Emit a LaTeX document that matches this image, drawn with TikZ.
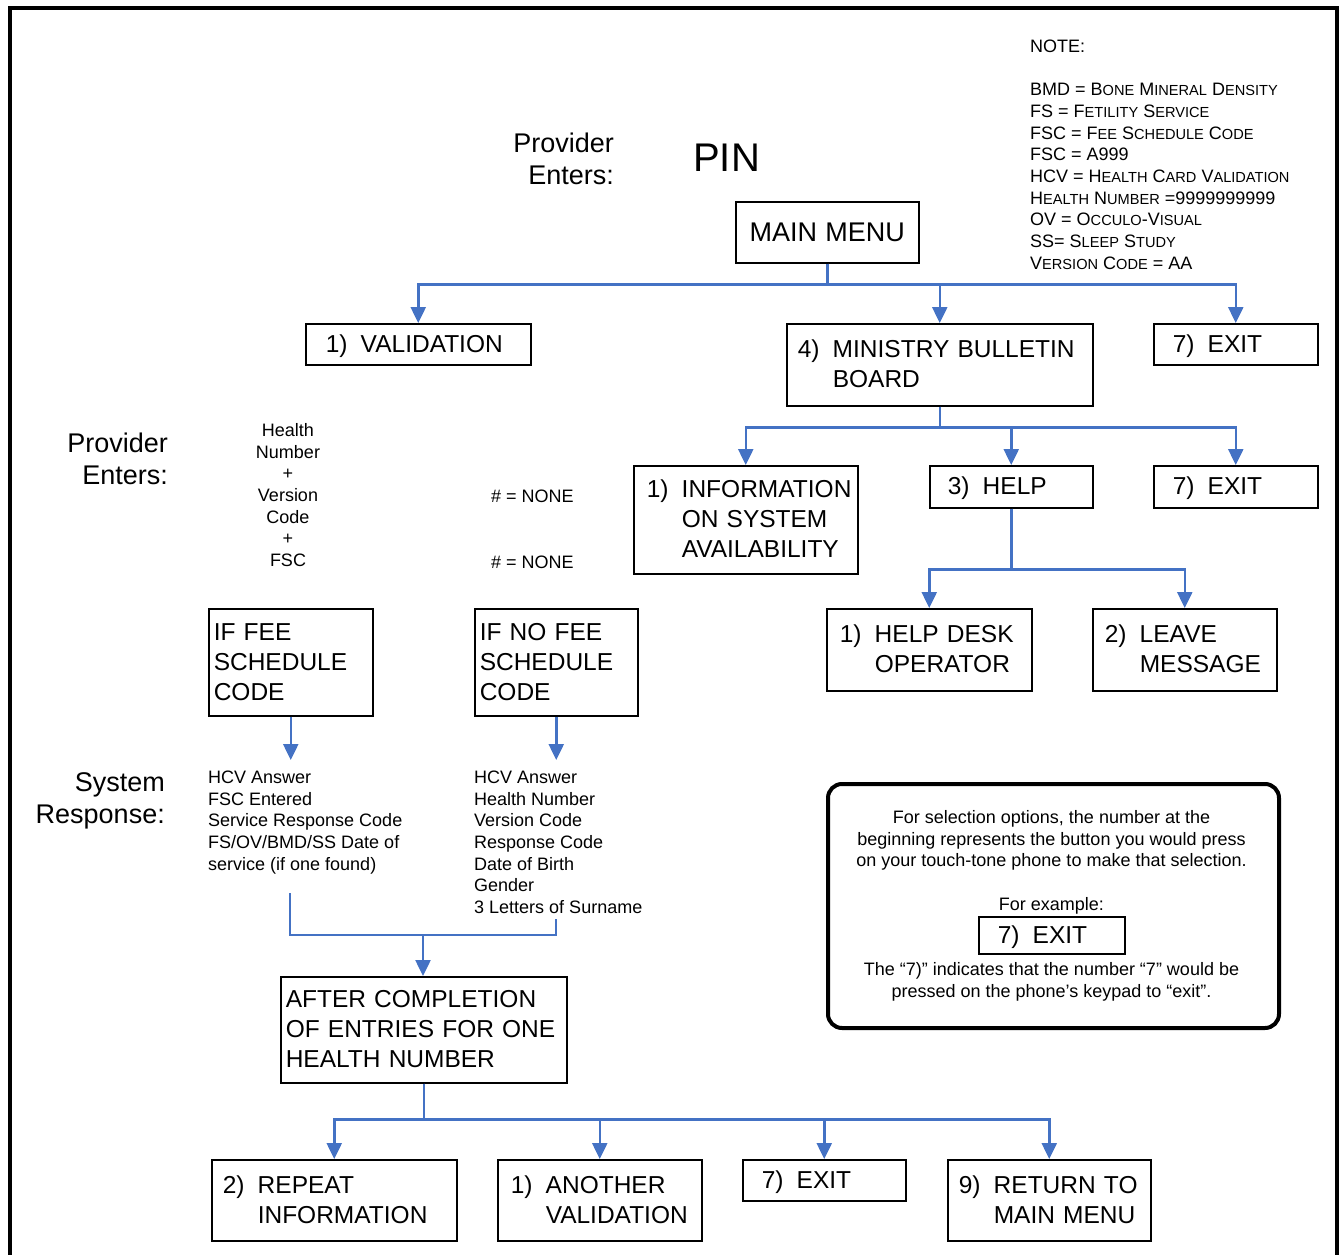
\documentclass[tikz,border=0pt]{standalone}
\usepackage{fontspec}
\setmainfont{Liberation Sans}
\usetikzlibrary{arrows.meta}
\definecolor{connblue}{RGB}{68,114,196}
\newcommand\fbig{\fontsize{24.5}{30}\selectfont}
\newcommand\flbl{\fontsize{27}{31.5}\selectfont}
\newcommand\fsml{\fontsize{18}{21.7}\selectfont}
\newcommand\fakesc[1]{{\fontsize{14.6}{14.6}\selectfont #1}}
\newcommand\toprule{\rule{0pt}{25pt}}
\newcommand\numtext[2]{\begin{tabular}{@{}l@{}l@{}}\toprule\makebox[35pt][l]{#1} & #2\end{tabular}}
\newcommand\optbox[7]{%
  \pgfmathsetmacro\optw{#4-#2-2*#6}%
  \pgfmathsetmacro\opth{#5-#3}%
  \node[boxn, inner xsep=#6pt, text width=\optw pt, minimum height=\opth pt] (#1) at (#2,#3) {#7};}
\begin{document}
\begin{tikzpicture}[x=1pt,y=-1pt,
  boxn/.style={draw, line width=1.5pt, rectangle, anchor=north west, align=left, inner ysep=0pt, font=\fbig},
  txt/.style={inner sep=0pt},
  conn/.style={draw=connblue, line width=2.5pt, -{Triangle[width=15pt,length=16pt]}},
  bus/.style={draw=connblue, line width=2.5pt},
  frame/.style={draw, line width=4pt},
  notebox/.style={draw, line width=4pt, rounded corners=14pt, anchor=north west, inner sep=0pt}]
\useasboundingbox (0,0) rectangle (1342,1255);
\draw[frame] (10,1270) -- (10,8) -- (1337,8) -- (1337,1270);

% labels
\node[txt, anchor=base east] (pe1) at (614,152.7) {\flbl\begin{tabular}[t]{@{}r@{}}Provider\\Enters:\end{tabular}};
\node[txt, anchor=base west] (pin) at (693,171.3) {\fontsize{40}{44}\selectfont PIN};
\node[txt, anchor=base east] (pe2) at (168,452.7) {\flbl\begin{tabular}[t]{@{}r@{}}Provider\\Enters:\end{tabular}};
\node[txt, anchor=base east] (sr) at (165,791.7) {\flbl\begin{tabular}[t]{@{}r@{}}System\\Response:\end{tabular}};

% note
\node[txt, anchor=base west] (note) at (1030,52.4) {\fsml\begin{tabular}[t]{@{}l@{}}NOTE:\\ \\
BMD = B\fakesc{ONE} M\fakesc{INERAL} D\fakesc{ENSITY}\\
FS = F\fakesc{ETILITY} S\fakesc{ERVICE}\\
FSC = F\fakesc{EE} S\fakesc{CHEDULE} C\fakesc{ODE}\\
FSC = A999\\
HCV = H\fakesc{EALTH} C\fakesc{ARD} V\fakesc{ALIDATION}\\
H\fakesc{EALTH} N\fakesc{UMBER} =9999999999\\
OV = O\fakesc{CCULO}-V\fakesc{ISUAL}\\
SS= S\fakesc{LEEP} S\fakesc{TUDY}\\
V\fakesc{ERSION} C\fakesc{ODE} = AA\end{tabular}};

% boxes
\optbox{main}{735}{201}{918}{262}{8}{\makebox[167pt][c]{\fontsize{27}{30}\selectfont MAIN MENU}}
\optbox{val}{305}{323}{530}{364}{20}{\numtext{1)}{VALIDATION}}
\optbox{mbb}{786}{323}{1092}{405}{11}{\numtext{4)}{MINISTRY BULLETIN\\ & BOARD}}
\optbox{ex1}{1153}{323}{1317}{364}{19}{\numtext{7)}{EXIT}}
\optbox{info}{633}{465}{857}{573}{13}{\numtext{1)}{INFORMATION\\ & ON SYSTEM\\ & AVAILABILITY}}
\optbox{help}{929}{465}{1092}{507}{18}{\numtext{3)}{HELP}}
\optbox{ex2}{1153}{465}{1317}{507}{19}{\numtext{7)}{EXIT}}
\optbox{hd}{826}{608}{1031}{690}{13}{\numtext{1)}{HELP DESK\\ & OPERATOR}}
\optbox{lm}{1092}{608}{1276}{690}{12}{\numtext{2)}{LEAVE\\ & MESSAGE}}
\optbox{fee}{208}{608}{372}{715}{5}{\begin{tabular}{@{}l@{}}\toprule IF FEE\\SCHEDULE\\CODE\end{tabular}}
\optbox{nofee}{474}{608}{637}{715}{5}{\begin{tabular}{@{}l@{}}\toprule IF NO FEE\\SCHEDULE\\CODE\end{tabular}}
\optbox{after}{280}{976}{566}{1082}{5}{\begin{tabular}{@{}l@{}}\toprule AFTER COMPLETION\\OF ENTRIES FOR ONE\\HEALTH NUMBER\end{tabular}}
\optbox{rep}{211}{1159}{456}{1240}{11}{\numtext{2)}{REPEAT\\ & INFORMATION}}
\optbox{ano}{497}{1159}{701}{1240}{13}{\numtext{1)}{ANOTHER\\ & VALIDATION}}
\optbox{ex3}{742}{1159}{905}{1200}{19}{\numtext{7)}{EXIT}}
\optbox{ret}{947}{1159}{1150}{1240}{11}{\numtext{9)}{RETURN TO\\ & MAIN MENU}}

% provider entries
\node[txt, anchor=base] (hn) at (288,436.4) {\fsml\begin{tabular}[t]{@{}c@{}}Health\\Number\\+\\Version\\Code\\+\\FSC\end{tabular}};
\node[txt, anchor=base west] (none1) at (491,502.4) {\fsml \# = NONE};
\node[txt, anchor=base west] (none2) at (491,568.4) {\fsml \# = NONE};

% system responses
\node[txt, anchor=base west] (feel) at (208,783.4) {\fsml\begin{tabular}[t]{@{}l@{}}HCV Answer\\FSC Entered\\Service Response Code\\FS/OV/BMD/SS Date of\\service (if one found)\end{tabular}};
\node[txt, anchor=base west] (nofeel) at (474,783.4) {\fsml\begin{tabular}[t]{@{}l@{}}HCV Answer\\Health Number\\Version Code\\Response Code\\Date of Birth\\Gender\\3 Letters of Surname\end{tabular}};

% note box
\node[notebox, minimum width=451pt, minimum height=244pt] (nb) at (826,782) {};
\node[txt, anchor=base] (nt1) at (1051.5,823.4) {\fsml\begin{tabular}[t]{@{}c@{}}For selection options, the number at the\\beginning represents the button you would press\\on your touch-tone phone to make that selection.\end{tabular}};
\node[txt, anchor=base] (nt2) at (1051.5,910.4) {\fsml For example:};
\optbox{exe}{978}{916}{1124}{953}{19}{\numtext{7)}{EXIT}}
\node[txt, anchor=base] (nt3) at (1051.5,975.4) {\fsml\begin{tabular}[t]{@{}c@{}}The “7)” indicates that the number “7” would be\\pressed on the phone’s keypad to “exit”.\end{tabular}};

% connectors
\draw[conn] (main.south) -- ++(0,21) -| (val.north);
\draw[conn] (main.south) -- ++(0,21) -| (mbb.north);
\draw[conn] (main.south) -- ++(0,21) -| (ex1.north);
\draw[conn] (mbb.south) -- ++(0,21) -| (info.north);
\draw[conn] (mbb.south) -- ++(0,21) -| (help.north);
\draw[conn] (mbb.south) -- ++(0,21) -| (ex2.north);
\draw[conn] (help.south) -- ++(0,61) -| (hd.north);
\draw[conn] (help.south) -- ++(0,61) -| (lm.north);
\coordinate (feeT) at (290,760);
\coordinate (nofeeT) at (556,760);
\draw[conn] (fee.south) -- (fee.south |- feeT);
\draw[conn] (nofee.south) -- (nofee.south |- nofeeT);
\coordinate (mL) at (290,893);
\coordinate (mR) at (556,919);
\coordinate (mJ) at (423,935);
\draw[bus] (mL) |- (mJ) -| (mR);
\draw[conn] (mJ) -- (mJ |- after.north);
\draw[conn] (after.south) -- ++(0,36) -| (rep.north);
\draw[conn] (after.south) -- ++(0,36) -| (ano.north);
\draw[conn] (after.south) -- ++(0,36) -| (ex3.north);
\draw[conn] (after.south) -- ++(0,36) -| (ret.north);
\end{tikzpicture}
\end{document}
